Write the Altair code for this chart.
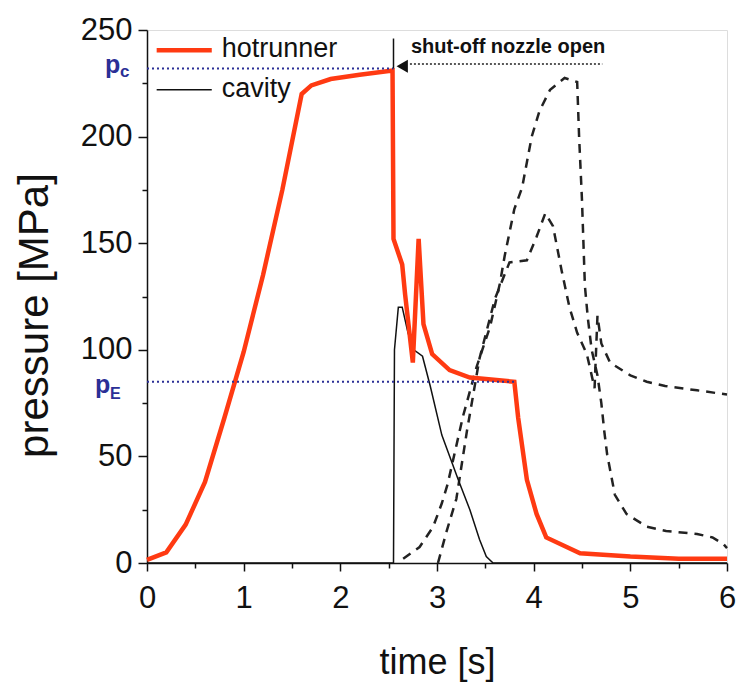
import altair as alt
import pandas as pd

# ---------------- data ----------------
hot_t = [0, 0.2, 0.4, 0.6, 0.8, 1.0, 1.2, 1.4, 1.6, 1.7, 1.9, 2.2, 2.54, 2.55, 2.64, 2.67,
         2.75, 2.81, 2.86, 2.95, 3.13, 3.34, 3.8, 3.84, 3.93, 4.03, 4.13, 4.48, 5.0, 5.5, 6.0]
hot_p = [1.5, 5, 18, 38, 68, 99, 135, 175, 220, 224, 227, 229, 231, 152, 140, 126,
         94, 152, 112, 98, 90.5, 87, 85, 68, 39, 23, 12, 4.6, 3, 2, 2]

cav_t = [0, 2.55, 2.56, 2.6, 2.64, 2.7, 2.76, 2.85, 2.93, 3.05, 3.22, 3.34, 3.44, 3.51, 3.58, 6.0]
cav_p = [0, 0, 100, 120, 120, 108, 100, 97, 83, 60, 39, 25, 11, 3, 0, 0]

a_t = [2.65, 2.82, 2.96, 3.05, 3.11, 3.27, 3.41, 3.55, 3.65, 3.7, 3.8, 3.88, 3.93, 3.98, 4.06,
       4.17, 4.32, 4.45, 4.47, 4.5, 4.53, 4.56, 4.6, 4.66, 4.7, 4.73, 4.76, 4.84, 4.96, 5.17,
       5.37, 5.69, 5.85, 5.96, 6.0]
a_p = [2, 7.5, 17, 28, 37, 69, 92, 111, 131, 144, 166, 176, 188, 200, 212,
       222, 227.5, 225.6, 200, 170, 130, 115, 100, 88, 75, 62, 51, 32, 23, 17,
       15, 13.6, 12, 9, 7]

b_t = [3.01, 3.1, 3.2, 3.31, 3.44, 3.6, 3.75, 3.93, 4.03, 4.12, 4.2, 4.29, 4.37, 4.45, 4.55,
       4.6, 4.63, 4.66, 4.7, 4.79, 5.0, 5.17, 5.36, 5.69, 6.0]
b_p = [0, 15, 30, 62, 96, 124, 141, 142, 153, 164, 158, 137, 120, 108, 98,
       88, 82, 116, 103, 94, 88, 85, 83, 81, 79]

p_c = 232
p_E = 85
t_shut = 2.55
t_hold_end = 3.8

x_ticks = [0, 0.5, 1, 1.5, 2, 2.5, 3, 3.5, 4, 4.5, 5, 5.5, 6]
y_ticks = [0, 25, 50, 75, 100, 125, 150, 175, 200, 225, 250]

RED = "#ff3a12"
BLUE = "#2b2f96"
FONT = "Liberation Sans"

# ---------------- frames ----------------
hot = pd.DataFrame({"t": hot_t, "p": hot_p, "o": range(len(hot_t))})
cav = pd.DataFrame({"t": cav_t, "p": cav_p, "o": range(len(cav_t))})
dA = pd.DataFrame({"t": a_t, "p": a_p, "o": range(len(a_t))})
dB = pd.DataFrame({"t": b_t, "p": b_p, "o": range(len(b_t))})

xs = alt.Scale(domain=[0, 6], nice=False)
ys = alt.Scale(domain=[0, 250], nice=False)

x_enc = alt.X("t:Q", scale=xs, axis=alt.Axis(
    values=x_ticks, title="time [s]",
    labelExpr="datum.value % 1 === 0 ? format(datum.value, 'd') : ''",
    labelFlush=False, labelOverlap=False,
    tickSize={"condition": {"test": "datum.value % 1 === 0", "value": 8}, "value": 5},
    labelFontSize=31, labelFont=FONT, labelColor="#111", labelPadding=12,
    titleFontSize=36, titleFont=FONT, titleFontWeight="normal", titleColor="#111",
    titleY=99, titleBaseline="middle",
    tickColor="#111", tickWidth=1.5, domainColor="#111", domainWidth=1.5, grid=False))
y_enc = alt.Y("p:Q", scale=ys, axis=alt.Axis(
    values=y_ticks, title="pressure [MPa]",
    labelExpr="datum.value % 50 === 0 ? format(datum.value, 'd') : ''",
    labelFlush=False, labelOverlap=False,
    tickSize={"condition": {"test": "datum.value % 50 === 0", "value": 9}, "value": 5},
    labelFontSize=31, labelFont=FONT, labelColor="#111", labelPadding=6,
    titleFontSize=42, titleFont=FONT, titleFontWeight="normal", titleColor="#111",
    titleX=-113, titleY=285, titleBaseline="middle",
    tickColor="#111", tickWidth=1.5, domainColor="#111", domainWidth=1.5, grid=False))

base_x = alt.X("t:Q", scale=xs)
base_y = alt.Y("p:Q", scale=ys)

line_hot = alt.Chart(hot).mark_line(color=RED, strokeWidth=4.5).encode(
    x=x_enc, y=y_enc, order="o:Q")
line_cav = alt.Chart(cav).mark_line(color="#111", strokeWidth=1.5).encode(
    x=base_x, y=base_y, order="o:Q")
line_a = alt.Chart(dA).mark_line(color="#222", strokeWidth=2.5, strokeDash=[9, 7]).encode(
    x=base_x, y=base_y, order="o:Q")
line_b = alt.Chart(dB).mark_line(color="#222", strokeWidth=2.5, strokeDash=[9, 7]).encode(
    x=base_x, y=base_y, order="o:Q")

# dotted reference levels
ref = pd.DataFrame({"t0": [0, 0], "t1": [t_shut, t_hold_end], "p": [p_c, p_E]})
ref_rules = alt.Chart(ref).mark_rule(color=BLUE, strokeWidth=2, strokeDash=[2, 3]).encode(
    x=alt.X("t0:Q", scale=xs), x2="t1:Q", y=base_y)

# p_c / p_E labels
lab_main = pd.DataFrame({"p": [p_c, p_E], "txt": ["p", "p"]})
lab_sub = pd.DataFrame({"p": [p_c, p_E], "txt": ["c", "E"]})
p_c_main = alt.Chart(lab_main.iloc[[0]]).mark_text(
    font=FONT, fontSize=25, fontWeight="bold", color=BLUE, align="left", baseline="alphabetic", dy=5
).encode(x=alt.value(-42), y=base_y, text="txt:N")
p_c_sub = alt.Chart(lab_sub.iloc[[0]]).mark_text(
    font=FONT, fontSize=17, fontWeight="bold", color=BLUE, align="left", baseline="alphabetic", dy=9
).encode(x=alt.value(-27), y=base_y, text="txt:N")
p_E_main = alt.Chart(lab_main.iloc[[1]]).mark_text(
    font=FONT, fontSize=25, fontWeight="bold", color=BLUE, align="left", baseline="alphabetic", dy=11
).encode(x=alt.value(-52), y=base_y, text="txt:N")
p_E_sub = alt.Chart(lab_sub.iloc[[1]]).mark_text(
    font=FONT, fontSize=16, fontWeight="bold", color=BLUE, align="left", baseline="alphabetic", dy=17
).encode(x=alt.value(-37), y=base_y, text="txt:N")

# shut-off nozzle annotation
ann_tick = alt.Chart(pd.DataFrame({"t": [t_shut], "p0": [p_c], "p1": [246]})).mark_rule(
    color="#111", strokeWidth=1.5).encode(x=base_x, y=alt.Y("p0:Q", scale=ys), y2="p1:Q")
ann_arrow = alt.Chart(pd.DataFrame({"t": [2.64], "p": [233]})).mark_point(
    shape="triangle-left", filled=True, color="#111", size=170, opacity=1).encode(x=base_x, y=base_y)
ann_line = alt.Chart(pd.DataFrame({"t0": [2.72], "t1": [4.71], "p": [234]})).mark_rule(
    color="#222", strokeWidth=1.5, strokeDash=[2, 2]).encode(
    x=alt.X("t0:Q", scale=xs), x2="t1:Q", y=base_y)
ann_text = alt.Chart(pd.DataFrame({"t": [2.73], "p": [242], "txt": ["shut-off nozzle open"]})).mark_text(
    font=FONT, fontSize=20, fontWeight="bold", color="#111", align="left", baseline="middle"
).encode(x=base_x, y=base_y, text="txt:N")

# legend (drawn inside the plot)
leg = pd.DataFrame({"t0": [0.1, 0.1], "t1": [0.67, 0.67], "p": [240.5, 222],
                    "name": ["hotrunner", "cavity"]})
leg_red = alt.Chart(leg.iloc[[0]]).mark_rule(color=RED, strokeWidth=4.5).encode(
    x=alt.X("t0:Q", scale=xs), x2="t1:Q", y=base_y)
leg_blk = alt.Chart(leg.iloc[[1]]).mark_rule(color="#111", strokeWidth=1.5).encode(
    x=alt.X("t0:Q", scale=xs), x2="t1:Q", y=base_y)
leg_txt = alt.Chart(leg).mark_text(
    font=FONT, fontSize=27, color="#111", align="left", baseline="middle", dx=10, dy=-1
).encode(x=alt.X("t1:Q", scale=xs), y=base_y, text="name:N")

chart = alt.layer(
    line_a, line_b, line_cav, line_hot, ref_rules,
    p_c_main, p_c_sub, p_E_main, p_E_sub,
    ann_tick, ann_arrow, ann_line, ann_text,
    leg_red, leg_blk, leg_txt,
).properties(
    width=580, height=533,
    autosize=alt.AutoSizeParams(type="none"),
    padding={"left": 147, "top": 30, "right": 9, "bottom": 125},
).configure_view(
    stroke="#111", strokeWidth=1.5
).configure(background="white")

chart.save("out.html", embed_options={"renderer": "svg", "actions": False})
